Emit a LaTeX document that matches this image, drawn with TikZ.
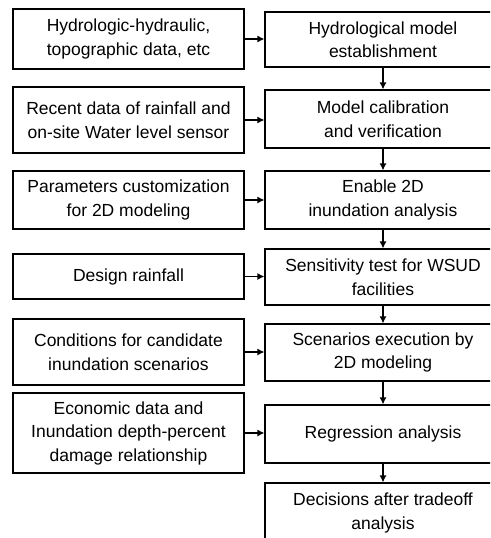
\documentclass[tikz,border=0pt]{standalone}
\usepackage{fontspec}
\setmainfont{Liberation Sans}
\usetikzlibrary{arrows.meta}
\tikzset{
  leftbox/.style={draw=black, line width=1.2pt, minimum width=231pt, align=center, inner sep=0pt},
  rightbox/.style={draw=black, line width=1.2pt, minimum width=236pt, align=center, inner sep=0pt},
  flow/.style={-{Latex[length=7pt,width=7pt]}, line width=1.2pt}
}
\begin{document}
\begin{tikzpicture}[x=1pt, y=-1pt, every node/.style={font=\fontsize{17.5}{23.5}\selectfont}]
\clip (0,0) rectangle (490,538);
% inputs
\node[leftbox, minimum height=60pt] (in1) at (128.5,39) {Hydrologic-hydraulic,\\topographic data, etc};
\node[leftbox, minimum height=66pt] (in2) at (128.5,120) {Recent data of rainfall and\\on-site Water level sensor};
\node[leftbox, minimum height=58pt] (in3) at (128.5,200) {Parameters customization\\for 2D modeling};
\node[leftbox, minimum height=45pt] (in4) at (128.5,276.5) {Design rainfall};
\node[leftbox, minimum height=66pt] (in5) at (128.5,352) {Conditions for candidate\\inundation scenarios};
\node[leftbox, minimum height=80pt] (in6) at (128.5,433) {Economic data and\\Inundation depth-percent\\damage relationship};
% steps
\node[rightbox, minimum height=55pt] (step1) at (383,39.5) {Hydrological model\\establishment};
\node[rightbox, minimum height=58pt] (step2) at (383,119) {Model calibration\\and verification};
\node[rightbox, minimum height=58pt] (step3) at (383,200) {Enable 2D\\inundation analysis};
\node[rightbox, minimum height=56pt] (step4) at (383,277) {Sensitivity test for WSUD\\facilities};
\node[rightbox, minimum height=57pt] (step5) at (383,352.5) {Scenarios execution by\\2D modeling};
\node[rightbox, minimum height=58pt] (step6) at (383,434) {Regression analysis};
\node[rightbox, minimum height=60pt] (step7) at (383,513) {Decisions after tradeoff\\analysis};
% connectors
\foreach \i in {1,...,6} {
  \draw[flow] (in\i.east) -- (in\i.east -| step\i.west);
}
\foreach \i/\j in {1/2,2/3,3/4,4/5,5/6,6/7} {
  \draw[flow] (step\i.south) -- (step\j.north);
}
\end{tikzpicture}
\end{document}
